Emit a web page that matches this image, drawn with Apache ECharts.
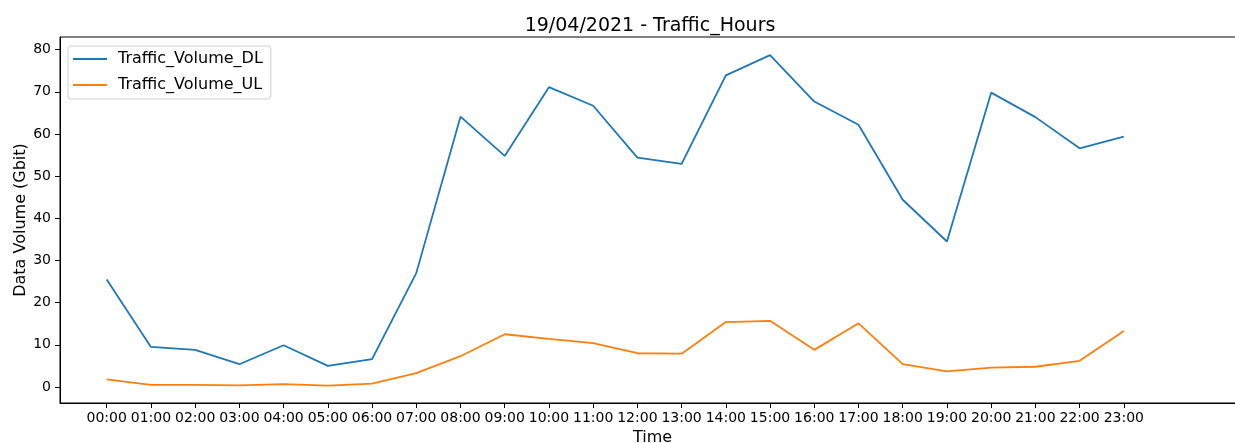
<!DOCTYPE html>
<html>
<head>
<meta charset="utf-8">
<title>Traffic_Hours</title>
<script src="https://cdn.jsdelivr.net/npm/echarts@6/dist/echarts.min.js"></script>
<style>
  html, body { margin: 0; padding: 0; background: #fff; }
  #main { width: 1235px; height: 443px; }
</style>
</head>
<body>
<div id="main"></div>
<script>
// hours on the x axis
var hours = ['00:00','01:00','02:00','03:00','04:00','05:00','06:00','07:00','08:00','09:00','10:00','11:00',
             '12:00','13:00','14:00','15:00','16:00','17:00','18:00','19:00','20:00','21:00','22:00','23:00'];
// download / upload volume (Gbit)
var volumeDL = [25.5, 9.5, 8.8, 5.4, 9.9, 5.0, 6.6, 27.0, 64.1, 54.8, 71.1, 66.7,
                54.4, 52.9, 73.9, 78.7, 67.7, 62.2, 44.4, 34.5, 69.8, 64.0, 56.6, 59.4];
var volumeUL = [1.8, 0.5, 0.5, 0.4, 0.7, 0.3, 0.8, 3.3, 7.3, 12.5, 11.4, 10.4,
                8.0, 7.9, 15.4, 15.7, 8.8, 15.1, 5.4, 3.7, 4.6, 4.8, 6.2, 13.3];
var yTicks = [0, 10, 20, 30, 40, 50, 60, 70, 80];

var font = 'DejaVu Sans';
var idx = hours.map(function (h, i) { return i; });

function pairs(arr) {
    return arr.map(function (v, i) { return [i, v]; });
}

var myChart = echarts.init(document.getElementById('main'));
var option = {
    animation: false,
    textStyle: { fontFamily: font },
    title: {
        text: '19/04/2021 - Traffic_Hours',
        left: 645, top: 12, textAlign: 'center',
        textStyle: { fontFamily: font, fontSize: 19, fontWeight: 'normal', color: '#000' }
    },
    legend: {
        orient: 'vertical',
        left: 68, top: 46,
        padding: [4, 8, 5, 5],
        itemGap: 8,
        itemWidth: 34, itemHeight: 2,
        icon: 'rect',
        borderColor: '#d0d0d0', borderWidth: 1, borderRadius: 3,
        textStyle: { fontFamily: font, fontSize: 16, color: '#000', lineHeight: 18, padding: [0, 0, 0, 6] },
        data: ['Traffic_Volume_DL', 'Traffic_Volume_UL']
    },
    grid: {
        left: 60, right: -10, top: 37, bottom: 40,
        outerBoundsMode: 'none',
        show: true, borderColor: '#000', borderWidth: 1
    },
    xAxis: {
        type: 'value',
        min: -1.056, max: 25.74,
        name: 'Time', nameLocation: 'middle', nameGap: 27,
        nameTextStyle: { fontFamily: font, fontSize: 16, color: '#000' },
        axisLine: { show: true, onZero: false, lineStyle: { color: '#000' } },
        axisTick: { show: true, inside: false, length: 5, lineStyle: { color: '#000' }, customValues: idx },
        axisLabel: {
            customValues: idx, margin: 8,
            fontFamily: font, fontSize: 14, color: '#000',
            formatter: function (v) { return hours[Math.round(v)]; }
        },
        splitLine: { show: false }
    },
    yAxis: {
        type: 'value',
        min: -3.8, max: 83,
        name: 'Data Volume (Gbit)', nameLocation: 'middle', nameGap: 31,
        nameMoveOverlap: false,
        nameTextStyle: { fontFamily: font, fontSize: 16, color: '#000' },
        axisLine: { show: true, onZero: false, lineStyle: { color: '#000' } },
        axisTick: { show: true, inside: false, length: 5, lineStyle: { color: '#000' }, customValues: yTicks },
        axisLabel: { customValues: yTicks, margin: 9, fontFamily: font, fontSize: 14, color: '#000' },
        splitLine: { show: false }
    },
    series: [{
        name: 'Traffic_Volume_DL',
        type: 'line',
        symbol: 'none',
        color: '#1f77b4',
        lineStyle: { width: 1.8, color: '#1f77b4' },
        data: pairs(volumeDL)
    }, {
        name: 'Traffic_Volume_UL',
        type: 'line',
        symbol: 'none',
        color: '#ff7f0e',
        lineStyle: { width: 1.8, color: '#ff7f0e' },
        data: pairs(volumeUL)
    }]
};
myChart.setOption(option);
</script>
</body>
</html>
